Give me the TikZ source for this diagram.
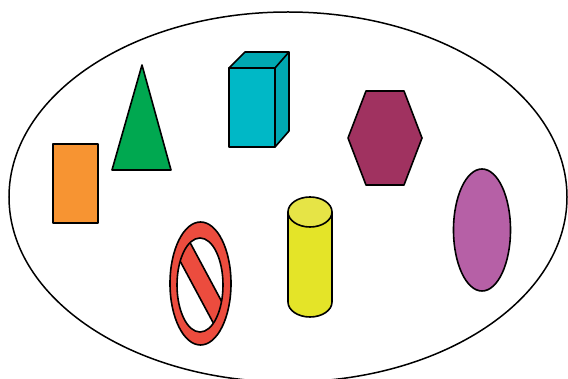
\documentclass[tikz,border=0pt]{standalone}
\usetikzlibrary{shapes.geometric}
\definecolor{orangeC}{RGB}{247,148,50}
\definecolor{greenC}{RGB}{0,168,80}
\definecolor{cyanF}{RGB}{0,184,198}
\definecolor{cyanS}{RGB}{0,168,178}
\definecolor{plumC}{RGB}{160,50,96}
\definecolor{violetC}{RGB}{182,96,166}
\definecolor{yellowC}{RGB}{228,228,40}
\definecolor{yellowT}{RGB}{230,228,70}
\definecolor{redC}{RGB}{236,76,62}
\tikzset{shp/.style={draw=black,line width=1.6pt,line join=round}}
\begin{document}
\begin{tikzpicture}[x=1pt,y=-1pt]
\useasboundingbox (0,0) rectangle (568,379);
% big ellipse
\draw[line width=1.5pt] (288,197) ellipse[x radius=279,y radius=185];
% orange rectangle
\draw[shp,fill=orangeC] (53,144) rectangle (98,223);
% green triangle
\draw[shp,fill=greenC] (142,65) -- (171,170) -- (112,170) -- cycle;
% cuboid
\draw[shp,fill=cyanS] (229,68) -- (245,52) -- (289,52) -- (289,131) -- (275,147) -- (275,68) -- cycle;
\draw[shp,fill=cyanF] (229,68) rectangle (275,147);
\draw[shp] (275,68) -- (289,52);
% hexagon
\draw[shp,fill=plumC] (366,91) -- (404,91) -- (422,138) -- (404,185) -- (366,185) -- (348,138) -- cycle;
% violet ellipse
\draw[shp,fill=violetC] (482,230) ellipse[x radius=28.5,y radius=61];
% cylinder
\draw[shp,fill=yellowC] (288,212) -- (288,302) arc[start angle=180,end angle=0,x radius=22,y radius=15] -- (332,212) -- cycle;
\draw[shp,fill=yellowT] (310,212) ellipse[x radius=22,y radius=15];
% no sign
\fill[redC,even odd rule] (200.5,283.5) ellipse[x radius=30.5,y radius=61.5] (200,285) ellipse[x radius=23,y radius=47];
\begin{scope}
\clip (200,285) ellipse[x radius=23,y radius=47];
\fill[redC] (186,235) -- (230,317) -- (216,328) -- (172,246) -- cycle;
\draw[line width=1.6pt] (186,235) -- (230,317);
\draw[line width=1.6pt] (172,246) -- (216,328);
\end{scope}
\draw[shp] (200.5,283.5) ellipse[x radius=30.5,y radius=61.5];
\draw[shp] (200,285) ellipse[x radius=23,y radius=47];
\end{tikzpicture}
\end{document}
